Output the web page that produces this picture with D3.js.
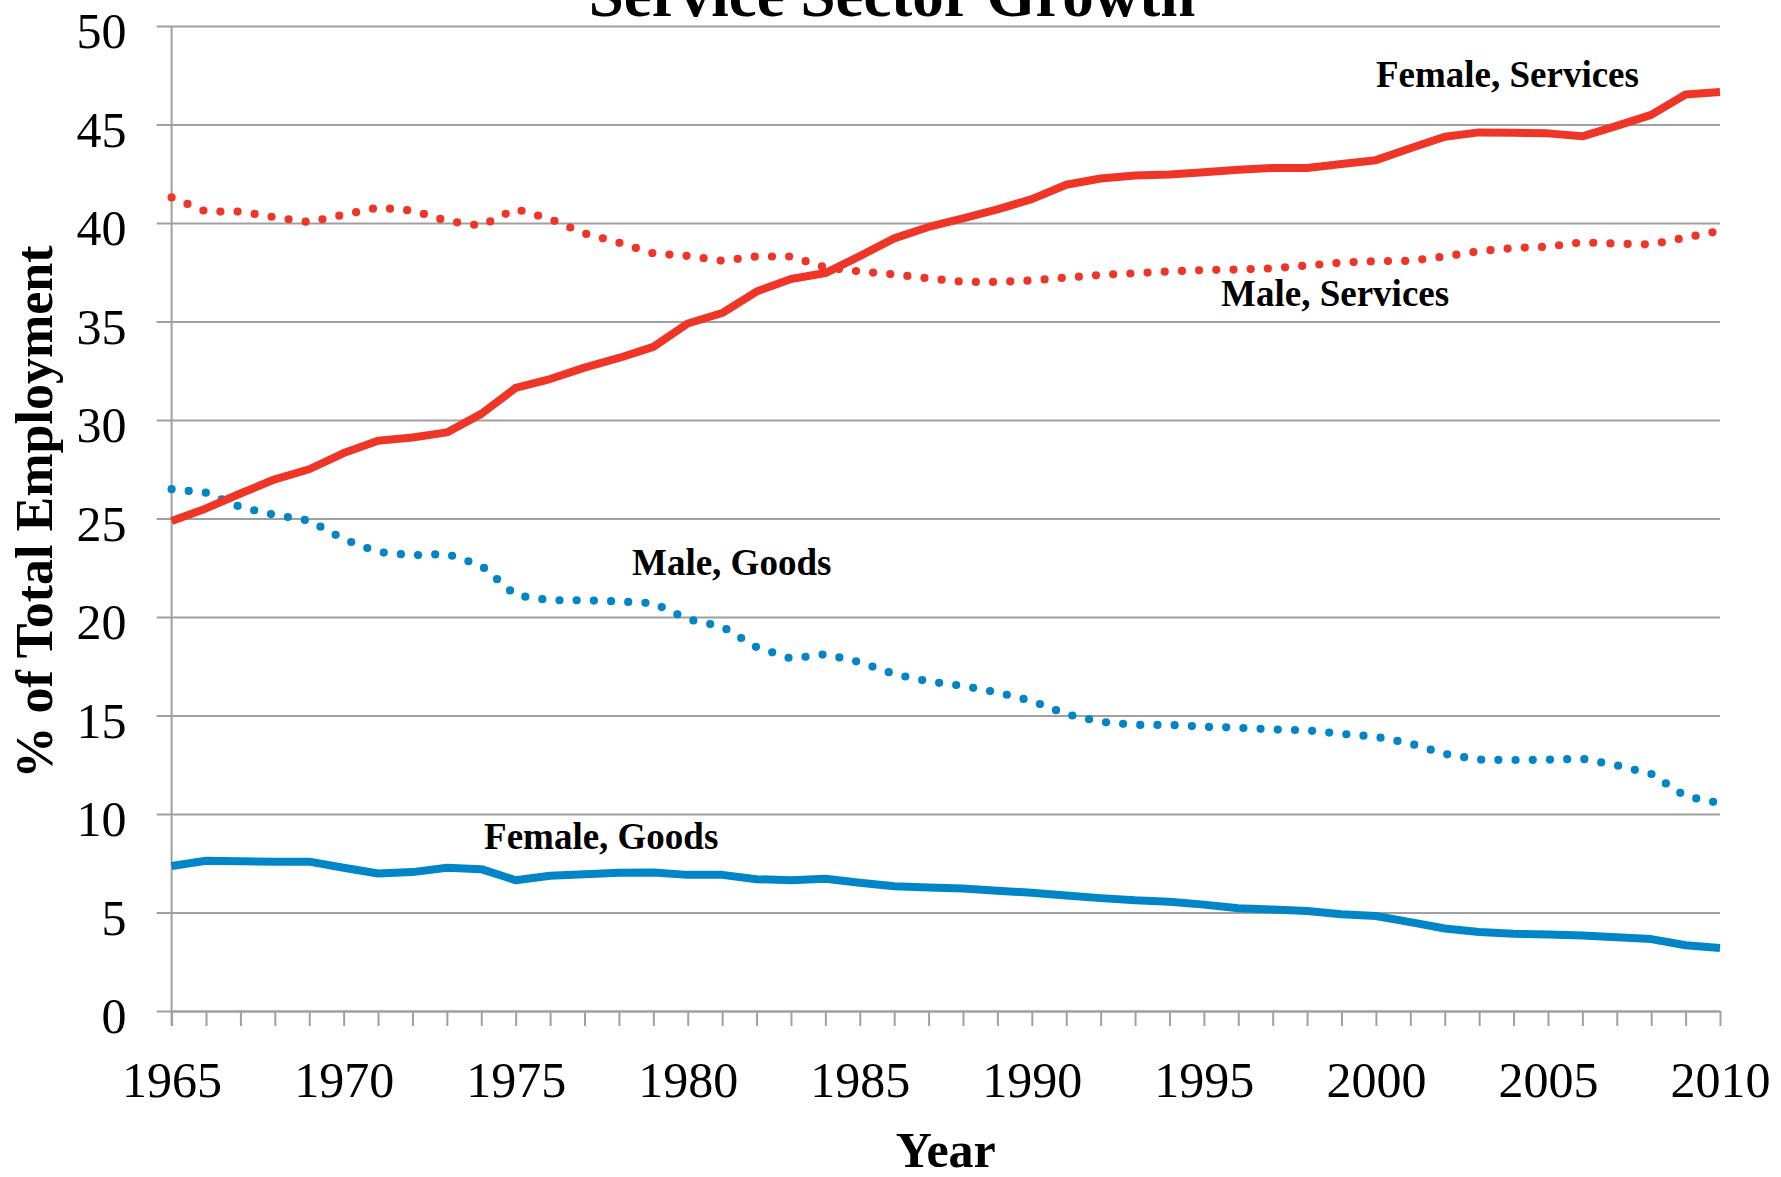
<!DOCTYPE html>
<html>
<head>
<meta charset="utf-8">
<script src="https://cdn.jsdelivr.net/npm/d3@7"></script>
<style>
  body { margin: 0; background: #fff; }
  text { font-family: "Liberation Serif", "Times New Roman", serif; fill: #000; }
</style>
</head>
<body>
<svg id="chart" width="1781" height="1177"></svg>
<script>
// years on the x axis
var years = d3.range(1965, 2011);

// % of total employment
var femaleServices = [24.87, 25.51, 26.27, 26.99, 27.5, 28.32, 28.95, 29.11, 29.37, 30.31,
  31.63, 32.08, 32.66, 33.15, 33.71, 34.9, 35.43, 36.52, 37.16, 37.46,
  38.32, 39.22, 39.8, 40.24, 40.69, 41.21, 41.94, 42.26, 42.41, 42.46,
  42.58, 42.7, 42.79, 42.79, 42.99, 43.19, 43.79, 44.38, 44.6, 44.58,
  44.55, 44.4, 44.93, 45.49, 46.52, 46.65];

var maleServices = [41.3, 40.58, 40.58, 40.29, 40.04, 40.42, 40.78, 40.63, 40.11, 39.86,
  40.71, 40.2, 39.47, 39.0, 38.46, 38.33, 38.08, 38.3, 38.3, 37.74,
  37.54, 37.39, 37.19, 37.01, 37.01, 37.08, 37.23, 37.36, 37.45, 37.54,
  37.61, 37.64, 37.7, 37.84, 37.99, 38.06, 38.08, 38.3, 38.57, 38.73,
  38.8, 39.02, 38.95, 38.91, 39.26, 39.6];

var maleGoods = [26.49, 26.31, 25.58, 25.18, 24.89, 23.95, 23.3, 23.13, 23.2, 22.61,
  21.1, 20.85, 20.85, 20.79, 20.7, 19.89, 19.51, 18.47, 17.89, 18.11,
  17.71, 17.1, 16.73, 16.5, 16.17, 15.74, 15.07, 14.68, 14.52, 14.52,
  14.43, 14.38, 14.29, 14.25, 14.07, 13.92, 13.58, 13.05, 12.76, 12.74,
  12.76, 12.8, 12.47, 12.04, 10.9, 10.55];

var femaleGoods = [7.36, 7.63, 7.6, 7.58, 7.58, 7.27, 6.98, 7.05, 7.27, 7.2,
  6.64, 6.87, 6.94, 7.02, 7.03, 6.91, 6.91, 6.69, 6.64, 6.71,
  6.51, 6.33, 6.27, 6.22, 6.11, 6.0, 5.86, 5.73, 5.62, 5.55,
  5.4, 5.22, 5.15, 5.08, 4.91, 4.82, 4.51, 4.19, 4.01, 3.92,
  3.88, 3.83, 3.74, 3.65, 3.34, 3.2];

var yTicks = [0, 5, 10, 15, 20, 25, 30, 35, 40, 45, 50];
var xLabelYears = [1965, 1970, 1975, 1980, 1985, 1990, 1995, 2000, 2005, 2010];

var red = "#ee3526";
var blue = "#0085c7";
var grey = "#a0a0a0";

var svg = d3.select("#chart");

var xScale = d3.scaleLinear().domain([1965, 2010]).range([171.6, 1720]);
var yScale = d3.scaleLinear().domain([0, 50]).range([1011, 26]);

//gridlines + y labels (ticks stick out 15px left of the axis)
var yAxis = d3.axisLeft(yScale)
  .tickValues(yTicks)
  .tickSize(-(xScale.range()[1] - xScale.range()[0] + 15))
  .tickPadding(30)
  .tickFormat(d3.format("d"));

var gy = svg.append("g")
  .attr("transform", "translate(" + (xScale.range()[0] - 15) + ",0)")
  .call(yAxis);
gy.select(".domain").remove();
gy.selectAll("line").attr("stroke", grey).attr("stroke-width", 2);
gy.selectAll("text")
  .attr("dy", "0.43em")
  .style("font-size", "50px")
  .style("font-family", "'Liberation Serif', 'Times New Roman', serif");

//x axis with a tick every year, labels every 5
var xAxis = d3.axisBottom(xScale)
  .tickValues(years)
  .tickSize(15)
  .tickSizeOuter(0)
  .tickPadding(36)
  .tickFormat(function(d){ return xLabelYears.indexOf(d) >= 0 ? d : ""; });

var gx = svg.append("g")
  .attr("transform", "translate(0," + yScale(0) + ")")
  .call(xAxis);
gx.select(".domain").attr("stroke", grey).attr("stroke-width", 2);
gx.selectAll("line").attr("stroke", grey).attr("stroke-width", 2);
gx.selectAll("text")
  .attr("dy", "0")
  .attr("y", 86)
  .style("font-size", "50px")
  .style("font-family", "'Liberation Serif', 'Times New Roman', serif");

// vertical axis line
svg.append("line")
  .attr("x1", xScale(1965)).attr("x2", xScale(1965))
  .attr("y1", yScale(50)).attr("y2", yScale(0) + 15)
  .attr("stroke", grey).attr("stroke-width", 2);

var line = d3.line()
  .x(function(d){ return xScale(d.year); })
  .y(function(d){ return yScale(d.value); });

function toPoints(values){
  return years.map(function(yr, i){ return {year: yr, value: values[i]}; });
}

function drawSeries(values, color, dotted){
  var path = svg.append("path")
    .attr("d", line(toPoints(values)))
    .attr("fill", "none")
    .attr("stroke", color)
    .attr("stroke-width", dotted ? 8.2 : 8)
    .attr("stroke-linejoin", "round");
  if(dotted){
    path.attr("stroke-dasharray", "0 17.2")
        .attr("stroke-linecap", "round");
  }
  return path;
}

drawSeries(maleGoods, blue, true);
drawSeries(femaleGoods, blue, false);
drawSeries(femaleServices, red, false);
drawSeries(maleServices, red, true);

//series labels
function addLabel(txt, year, value){
  svg.append("text")
    .attr("x", xScale(year))
    .attr("y", yScale(value))
    .style("font-size", "37px")
    .style("font-weight", "bold")
    .text(txt);
}
addLabel("Female, Services", 2000.0, 46.88);
addLabel("Male, Services", 1995.5, 35.79);
addLabel("Male, Goods", 1978.38, 22.13);
addLabel("Female, Goods", 1974.08, 8.22);

// title (sits partly above the top edge, as in the original)
svg.append("text")
  .attr("x", 892)
  .attr("y", 16)
  .attr("text-anchor", "middle")
  .style("font-size", "63px")
  .style("font-weight", "bold")
  .text("Service Sector Growth");

// axis titles
svg.append("text")
  .attr("transform", "translate(52,512) rotate(-90)")
  .attr("text-anchor", "middle")
  .style("font-size", "52px")
  .style("font-weight", "bold")
  .text("% of Total Employment");

svg.append("text")
  .attr("x", (xScale.range()[0] + xScale.range()[1]) / 2)
  .attr("y", 1167)
  .attr("text-anchor", "middle")
  .style("font-size", "50px")
  .style("font-weight", "bold")
  .text("Year");
</script>
</body>
</html>
